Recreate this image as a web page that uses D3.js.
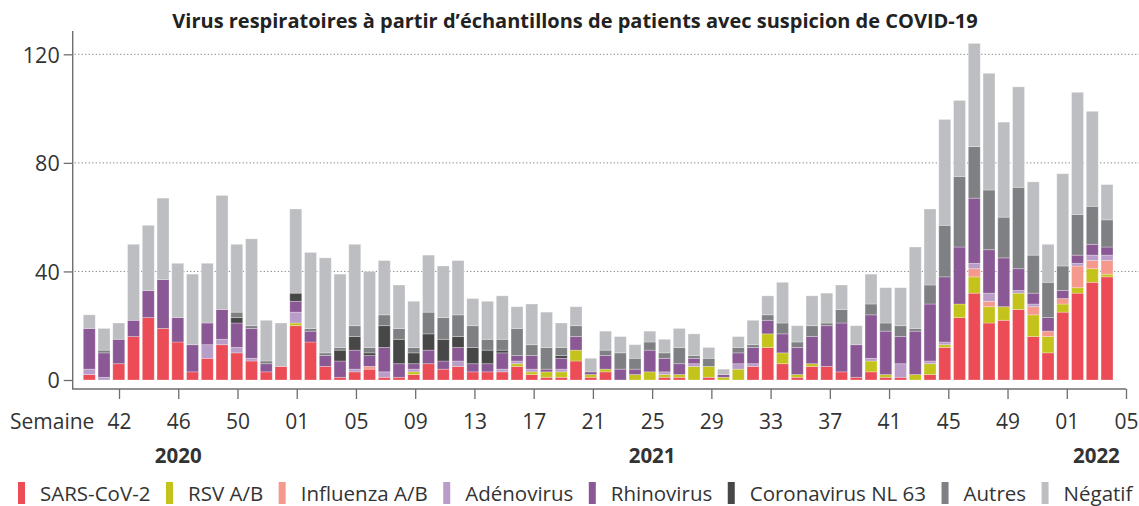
<!DOCTYPE html>
<html>
<head>
<meta charset="utf-8">
<script src="https://cdn.jsdelivr.net/npm/d3@7"></script>
<style>
  body { margin: 0; background: #fff; }
  svg { display: block; font-family: "Open Sans", sans-serif; }
</style>
</head>
<body>
<div id="chart"></div>
<script>
// semaines (2020-W40 .. 2022-W04)
const weeks = [
  "2020-40","2020-41","2020-42","2020-43","2020-44","2020-45","2020-46","2020-47","2020-48","2020-49","2020-50","2020-51","2020-52","2020-53",
  "2021-01","2021-02","2021-03","2021-04","2021-05","2021-06","2021-07","2021-08","2021-09","2021-10","2021-11","2021-12","2021-13",
  "2021-14","2021-15","2021-16","2021-17","2021-18","2021-19","2021-20","2021-21","2021-22","2021-23","2021-24","2021-25","2021-26",
  "2021-27","2021-28","2021-29","2021-30","2021-31","2021-32","2021-33","2021-34","2021-35","2021-36","2021-37","2021-38","2021-39",
  "2021-40","2021-41","2021-42","2021-43","2021-44","2021-45","2021-46","2021-47","2021-48","2021-49","2021-50","2021-51","2021-52",
  "2022-01","2022-02","2022-03","2022-04"
]
const axisWeeks = weeks.concat(["2022-05"])
const tickWeeks = ["2020-42","2020-46","2020-50","2021-01","2021-05","2021-09","2021-13","2021-17","2021-21","2021-25",
  "2021-29","2021-33","2021-37","2021-41","2021-45","2021-49","2022-01","2022-05"]
const yTicks = [0, 40, 80, 120]
const years = ["2020", "2021", "2022"]
const yearWeeks = ["2020-46", "2021-25", "2022-03"]

const sars = [2,0,6,16,23,19,14,3,8,13,10,7,3,5,
  20,14,5,1,3,4,1,1,2,6,4,5,3,3,3,5,2,1,1,7,1,3,0,0,0,1,1,0,1,0,0,5,12,6,1,5,5,3,1,3,1,1,0,2,12,23,32,21,22,26,16,10,
  25,32,36,38]
const rsv = [0,0,0,0,0,0,0,0,0,0,0,0,0,0,
  1,0,0,0,0,0,0,0,1,0,0,0,0,0,0,1,1,2,2,4,1,1,0,2,3,1,1,5,4,1,4,0,5,4,1,1,0,0,0,4,1,0,2,4,1,5,6,6,5,6,8,6,
  3,2,5,1]
const influenza = [0,0,0,0,0,0,0,0,0,0,0,0,0,0,
  0,0,0,0,0,1,0,0,0,0,0,0,0,0,0,0,0,0,0,0,0,0,0,0,0,0,0,0,0,0,0,0,0,0,0,0,0,0,0,0,0,0,0,0,0,0,3,2,0,0,3,2,
  2,8,3,5]
const adeno = [2,1,0,0,0,0,0,0,5,2,2,1,0,0,
  4,0,0,0,1,0,2,0,1,0,0,2,0,0,1,1,1,0,1,0,0,0,0,0,0,1,0,1,0,0,2,1,0,0,0,0,0,0,0,1,0,5,0,1,1,0,2,3,0,1,1,0,
  0,1,2,2]
const rhino = [15,9,9,6,10,18,9,10,8,11,9,11,3,0,
  4,4,4,6,7,4,9,5,2,5,3,5,3,3,6,2,5,1,4,5,1,5,4,2,8,5,4,2,0,1,4,6,5,7,10,10,15,18,12,16,16,10,16,21,24,21,24,16,18,8,4,5,
  3,3,4,3]
const nl63 = [0,0,0,0,0,0,0,0,0,0,2,0,0,0,
  3,0,0,4,5,1,8,9,4,6,8,4,6,5,1,0,0,0,1,0,0,0,0,0,0,0,0,0,0,0,0,0,0,0,0,0,0,0,0,0,0,0,0,0,0,0,0,0,0,0,0,0,
  0,0,0,0]
const autres = [0,1,0,0,0,0,0,0,0,0,2,1,1,0,
  0,1,1,1,4,2,4,4,2,8,8,8,8,4,4,10,4,8,3,4,0,2,6,4,3,2,6,1,3,0,2,1,2,4,2,4,1,5,0,4,3,4,1,7,19,26,19,22,15,30,14,13,
  9,15,14,10]
const negatif = [5,8,6,28,24,30,20,26,22,42,25,32,15,16,
  31,28,35,27,30,28,20,16,17,21,19,20,10,14,16,8,15,13,9,7,5,7,6,5,4,5,7,8,4,2,4,9,7,15,6,11,11,9,7,11,13,14,30,28,39,28,38,43,35,37,27,14,
  34,45,35,13]

const names = ["SARS-CoV-2", "RSV A/B", "Influenza A/B", "Adénovirus", "Rhinovirus", "Coronavirus NL 63", "Autres", "Négatif"]
const colors = ["#eb4c55", "#c3c31b", "#f5998c", "#b99cc7", "#8a5895", "#474747", "#7f8083", "#bdbec1"]
const values = [sars, rsv, influenza, adeno, rhino, nl63, autres, negatif]

const width = 1139
const height = 506
const axisColor = "#6e6e6e"
const textColor = "#333"

const rows = weeks.map((w, i) => {
  const r = {week: w}
  names.forEach((n, k) => r[n] = values[k][i])
  return r
})

const svg = d3.select("#chart").append("svg")
  .attr("width", width)
  .attr("height", height)

const x = d3.scaleBand()
  .domain(weeks)
  .range([81.9, 1114.4])
  .paddingInner(0.19)
  .paddingOuter(0.095)

const xAxisScale = d3.scalePoint()
  .domain(axisWeeks)
  .range([89.4, 1126])

const y = d3.scaleLinear()
  .domain([0, 120])
  .range([380, 54.3])

const left = 72.7
const axisY = 389
const axisTop = y(128.6)

// grid
svg.append("g")
  .selectAll("line")
  .data(yTicks.filter(d => d > 0))
  .join("line")
  .attr("x1", left + 2)
  .attr("x2", width)
  .attr("y1", d => y(d))
  .attr("y2", d => y(d))
  .attr("stroke", "#7a7a7a")
  .attr("stroke-width", 1)
  .attr("stroke-dasharray", "1.2,2.3")

// bars
const stack = d3.stack().keys(names)(rows)
svg.append("g")
  .selectAll("g")
  .data(stack)
  .join("g")
  .attr("fill", (d, i) => colors[i])
  .selectAll("rect")
  .data(d => d.filter(s => s[1] - s[0] > 0))
  .join("rect")
  .attr("x", d => x(d.data.week))
  .attr("width", x.bandwidth())
  .attr("y", d => y(d[1]))
  .attr("height", d => y(d[0]) - y(d[1]))
  .attr("stroke", "#fff")
  .attr("stroke-opacity", 0.35)
  .attr("stroke-width", 0.8)

// y axis
const yAxis = svg.append("g")
  .attr("transform", `translate(${left},0)`)
  .call(d3.axisLeft(y).tickValues(yTicks).tickSize(9).tickPadding(4))
  .attr("font-family", null)
yAxis.select(".domain").remove()
yAxis.selectAll(".tick line").attr("stroke", axisColor).attr("stroke-width", 1.3)
yAxis.selectAll(".tick text")
  .attr("fill", textColor)
  .attr("font-size", 21.5)
  .attr("dy", "0.36em")

// x axis
const xAxis = svg.append("g")
  .attr("transform", `translate(0,${axisY})`)
  .call(d3.axisBottom(xAxisScale).tickValues(tickWeeks).tickFormat(d => d.slice(5)).tickSize(10).tickPadding(15))
  .attr("font-family", null)
xAxis.select(".domain").remove()
xAxis.selectAll(".tick line").attr("stroke", axisColor).attr("stroke-width", 1.3)
xAxis.selectAll(".tick text")
  .attr("fill", textColor)
  .attr("font-size", 21)

svg.append("path")
  .attr("d", `M${left},${axisTop}V${axisY}H${xAxisScale.range()[1]}`)
  .attr("fill", "none")
  .attr("stroke", axisColor)
  .attr("stroke-width", 1.4)

svg.append("text")
  .attr("x", 10)
  .attr("y", axisY + 40)
  .attr("fill", textColor)
  .attr("font-size", 21)
  .text("Semaine")

svg.append("g")
  .selectAll("text")
  .data(years)
  .join("text")
  .attr("x", (d, i) => xAxisScale(yearWeeks[i]))
  .attr("y", 463)
  .attr("text-anchor", "middle")
  .attr("font-weight", "bold")
  .attr("font-size", 20.5)
  .attr("fill", textColor)
  .text(d => d)

// title
svg.append("text")
  .attr("x", 575)
  .attr("y", 28)
  .attr("text-anchor", "middle")
  .attr("font-weight", "bold")
  .attr("font-size", 20)
  .attr("fill", "#222")
  .text("Virus respiratoires à partir d’échantillons de patients avec suspicion de COVID-19")

// legend
const legend = svg.append("g")
let lx = 18
names.forEach((n, i) => {
  legend.append("rect")
    .attr("x", lx)
    .attr("y", 482)
    .attr("width", 7)
    .attr("height", 22)
    .attr("fill", colors[i])
  const t = legend.append("text")
    .attr("x", lx + 22)
    .attr("y", 501)
    .attr("font-size", 20.5)
    .attr("fill", textColor)
    .text(n)
  lx += 22 + t.node().getComputedTextLength() + 15.5
})
</script>
</body>
</html>
